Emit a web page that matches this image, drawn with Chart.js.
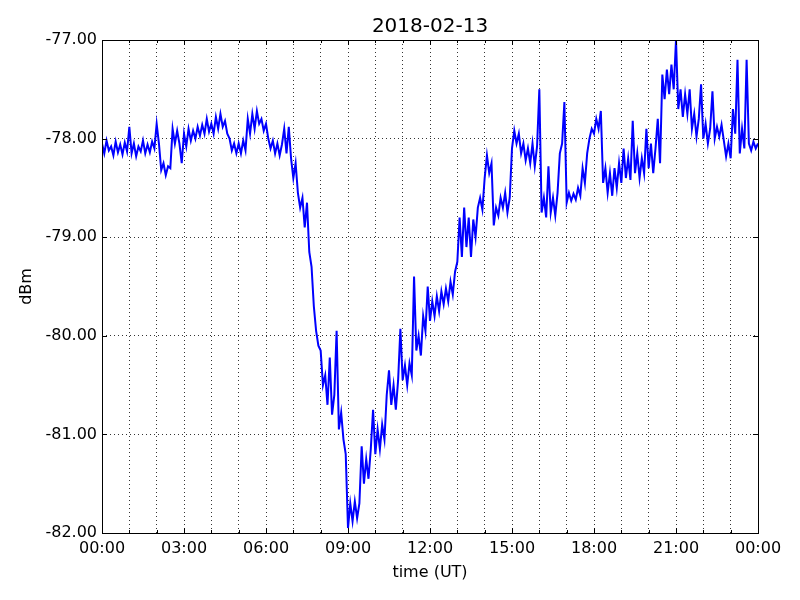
<!DOCTYPE html>
<html>
<head>
<meta charset="utf-8">
<script src="https://cdn.jsdelivr.net/npm/chart.js@4"></script>
<style>
  html, body { margin: 0; padding: 0; background: #fff; }
  #wrap { width: 800px; height: 600px; }
</style>
</head>
<body>
<div id="wrap"><canvas id="myChart" width="800" height="600"></canvas></div>
<script>
// signal level, one reading every 5 minutes, 00:00 -> 24:00 UT
const stepMinutes = 5;
const dbm = [
  // 00h
  -78.05, -78.15, -78.02, -78.12, -78.08, -78.17, -78.03, -78.14, -78.06, -78.16, -78.04, -78.13,
  // 01h
  -77.88, -78.15, -78.05, -78.18, -78.08, -78.13, -78.02, -78.15, -78.06, -78.14, -78.03, -78.10,
  // 02h
  -77.85, -78.05, -78.32, -78.25, -78.37, -78.28, -78.30, -77.90, -78.05, -77.92, -78.05, -78.25,
  // 03h
  -77.95, -78.08, -77.90, -78.02, -77.92, -78.00, -77.88, -77.97, -77.86, -77.95, -77.80, -77.93,
  // 04h
  -77.85, -77.95, -77.78, -77.90, -77.75, -77.88, -77.82, -77.95, -78.00, -78.12, -78.05, -78.15,
  // 05h
  -78.05, -78.15, -78.02, -78.12, -77.80, -77.95, -77.75, -77.90, -77.72, -77.85, -77.80, -77.92,
  // 06h
  -77.85, -78.00, -78.10, -78.02, -78.15, -78.05, -78.17, -78.06, -77.90, -78.15, -77.88, -78.20,
  // 07h
  -78.40, -78.25, -78.55, -78.70, -78.60, -78.90, -78.65, -79.15, -79.30, -79.70, -79.95, -80.10,
  // 08h
  -80.15, -80.50, -80.40, -80.70, -80.22, -80.80, -80.60, -79.95, -80.95, -80.78, -81.05, -81.20,
  // 09h
  -81.95, -81.70, -81.88, -81.68, -81.85, -81.70, -81.12, -81.50, -81.25, -81.45, -81.15, -80.75,
  // 10h
  -81.20, -80.95, -81.15, -80.90, -81.05, -80.60, -80.35, -80.70, -80.50, -80.75, -80.45, -79.93,
  // 11h
  -80.45, -80.30, -80.50, -80.28, -80.40, -79.40, -80.15, -80.00, -80.20, -79.80, -79.95, -79.50,
  // 12h
  -79.85, -79.65, -79.80, -79.60, -79.75, -79.55, -79.68, -79.52, -79.65, -79.45, -79.58, -79.35,
  // 13h
  -79.25, -78.80, -79.20, -78.70, -79.10, -78.80, -79.20, -78.82, -79.00, -78.70, -78.60, -78.72,
  // 14h
  -78.40, -78.17, -78.35, -78.25, -78.88, -78.70, -78.78, -78.60, -78.70, -78.55, -78.75, -78.60,
  // 15h
  -78.10, -77.92, -78.05, -77.95, -78.15, -78.05, -78.22, -78.10, -78.25, -78.05, -78.28, -78.08,
  // 16h
  -77.50, -78.75, -78.60, -78.80, -78.28, -78.75, -78.60, -78.78, -78.55, -78.15, -78.05, -77.63,
  // 17h
  -78.65, -78.55, -78.63, -78.56, -78.62, -78.50, -78.58, -78.30, -78.45, -78.15, -78.00, -77.90,
  // 18h
  -77.95, -77.80, -77.90, -77.72, -78.45, -78.30, -78.55, -78.35, -78.58, -78.30, -78.50, -78.25,
  // 19h
  -78.45, -78.10, -78.40, -78.20, -78.42, -77.82, -78.35, -78.15, -78.40, -78.20, -78.35, -77.90,
  // 20h
  -78.30, -78.05, -78.35, -78.10, -77.80, -78.25, -77.35, -77.60, -77.30, -77.55, -77.25, -77.50,
  // 21h
  -77.00, -77.70, -77.50, -77.78, -77.55, -77.75, -77.50, -77.90, -77.75, -77.98, -77.80, -77.45,
  // 22h
  -78.00, -77.85, -78.05, -77.90, -77.52, -78.00, -77.88, -77.98, -77.86, -78.02, -78.18, -78.05,
  // 23h
  -78.20, -77.70, -77.95, -77.20, -78.15, -77.90, -78.10, -77.20, -78.05, -78.12, -78.03, -78.10,
  // 24h
  -78.05
];
const timeTickLabels = ['00:00', '03:00', '06:00', '09:00', '12:00', '15:00', '18:00', '21:00', '00:00'];
const dbmTicks = [-82, -81, -80, -79, -78, -77];
const chartTitle = '2018-02-13';

const points = dbm.map((v, i) => ({ x: i * stepMinutes, y: v }));
const font = { family: 'DejaVu Sans', size: 16 };

// matplotlib-like frame with inward ticks, title centred over the plot area
const frameTicks = {
  id: 'frameTicks',
  afterDraw(chart) {
    const { ctx, chartArea: a, scales } = chart;
    ctx.save();
    ctx.strokeStyle = '#000';
    ctx.lineWidth = 1;
    ctx.beginPath();
    for (let m = 0; m <= 1440; m += 60) {
      const x = Math.round(scales.x.getPixelForValue(m)) + 0.5;
      const len = m % 180 === 0 ? 5 : 3;
      ctx.moveTo(x, a.bottom); ctx.lineTo(x, a.bottom - len);
      ctx.moveTo(x, a.top); ctx.lineTo(x, a.top + len);
    }
    dbmTicks.forEach(v => {
      const y = Math.round(scales.y.getPixelForValue(v)) + 0.5;
      ctx.moveTo(a.left, y); ctx.lineTo(a.left + 5, y);
      ctx.moveTo(a.right, y); ctx.lineTo(a.right - 5, y);
    });
    ctx.stroke();
    ctx.strokeRect(Math.round(a.left) + 0.5, Math.round(a.top) + 0.5,
      Math.round(a.right - a.left), Math.round(a.bottom - a.top));

    ctx.fillStyle = '#000';
    ctx.font = '20px "DejaVu Sans"';
    ctx.textAlign = 'center';
    ctx.textBaseline = 'middle';
    ctx.fillText(chartTitle, (a.left + a.right) / 2, 27);
    ctx.restore();
  }
};

const ctx = document.getElementById('myChart');

new Chart(ctx, {
  type: 'line',
  data: {
    datasets: [
      {
        label: 'dBm',
        data: points,
        borderColor: '#0000ff',
        borderWidth: 2,
        pointRadius: 0,
        tension: 0,
        fill: false,
      },
    ],
  },
  options: {
    responsive: false,
    animation: false,
    layout: { padding: { left: 0, right: 42, top: 40, bottom: 0 } },
    plugins: {
      legend: { display: false },
      tooltip: { enabled: false },
      title: { display: false },
    },
    scales: {
      x: {
        type: 'linear',
        min: 0,
        max: 1440,
        afterFit: s => { s.height = 67; },
        grid: { color: '#000', lineWidth: 0.8, drawTicks: false },
        border: { display: false, dash: [1, 3] },
        ticks: {
          stepSize: 60,
          autoSkip: false,
          maxRotation: 0,
          padding: 6,
          color: '#000',
          font,
          callback: v => (v % 180 === 0 ? timeTickLabels[v / 180] : ''),
        },
        title: {
          display: true,
          text: 'time (UT)',
          color: '#000',
          font,
          padding: { top: 4, bottom: 18 },
        },
      },
      y: {
        min: -82,
        max: -77,
        afterFit: s => { s.width = 102; },
        grid: { color: '#000', lineWidth: 0.8, drawTicks: false },
        border: { display: false, dash: [1, 3] },
        ticks: {
          stepSize: 1,
          padding: 5,
          color: '#000',
          font,
          callback: v => v.toFixed(2),
        },
        title: {
          display: true,
          text: 'dBm',
          color: '#000',
          font,
          padding: { top: 17, bottom: 0 },
        },
      },
    },
  },
  plugins: [frameTicks],
});
</script>
</body>
</html>
